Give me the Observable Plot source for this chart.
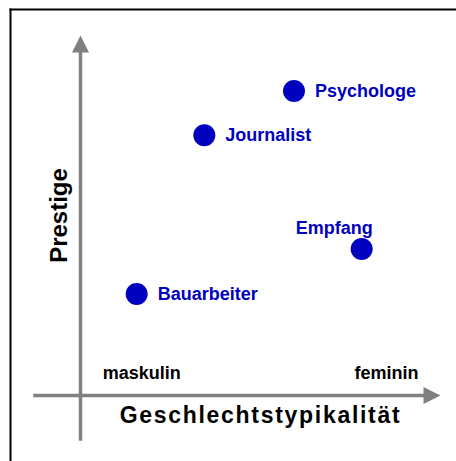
<!DOCTYPE html>
<html><head><meta charset="utf-8">
<script src="https://cdn.jsdelivr.net/npm/d3@7"></script>
<script src="https://cdn.jsdelivr.net/npm/@observablehq/plot@0.6"></script>
<style>
body{margin:0;background:#fff;}
#chart svg{display:block;background:#fff;}
</style>
</head><body><div id="chart"></div>
<script>
// Data (abstract units 0..100 along each arrow)
const jobs = ["Psychologe", "Journalist", "Empfang", "Bauarbeiter"];
const typicality = [59.3, 34.4, 78.1, 15.6];
const prestige = [84.6, 72.3, 40.7, 28.2];
const poleLabels = ["maskulin", "feminin"];
const polePositions = [17, 85];
const xTitle = "Geschlechtstypikalität";
const yTitle = "Prestige";
const xAxisExtent = [-13, 100];
const yAxisExtent = [-12.7, 100];

const data = jobs.map((name, i) => ({name, x: typicality[i], y: prestige[i]}));
const poles = poleLabels.map((label, i) => ({label, x: polePositions[i]}));
const heads = [
  {x: 0, y: yAxisExtent[1], rotate: 0},
  {x: xAxisExtent[1], y: 0, rotate: 90}
];

const blue = "#0000bf";
const gray = "#808080";
const font = "'Liberation Sans', Arial, Helvetica, sans-serif";

const headShape = {
  draw(context, l, r) {
    context.moveTo(0, -l);
    context.lineTo(r, 0);
    context.lineTo(-r, 0);
    context.closePath();
  }
};

const chart = Plot.plot({
  width: 456,
  height: 461,
  marginTop: 9,
  marginLeft: 10,
  marginRight: 0,
  marginBottom: 0,
  style: {fontFamily: font, background: "#fff"},
  x: {domain: [0, 100], range: [80, 440], axis: null},
  y: {domain: [0, 100], range: [395, 35], axis: null},
  marks: [
    Plot.frame({anchor: "top", stroke: "black", strokeWidth: 2}),
    Plot.frame({anchor: "left", stroke: "black", strokeWidth: 2}),
    Plot.ruleX([0], {y1: yAxisExtent[0], y2: yAxisExtent[1] - 3, stroke: gray, strokeWidth: 3.5}),
    Plot.ruleY([0], {x1: xAxisExtent[0], x2: xAxisExtent[1] - 3, stroke: gray, strokeWidth: 3.5}),
    Plot.vector(heads, {x: "x", y: "y", rotate: "rotate", length: 17, r: 8.5, anchor: "end",
      shape: headShape, fill: gray, stroke: "none"}),
    Plot.dot(data, {x: "x", y: "y", r: 11, fill: blue, stroke: "none"}),
    Plot.text(data, {filter: d => d.name !== "Empfang", x: "x", y: "y", text: "name",
      textAnchor: "start", dx: 21, fill: blue, fontSize: 18, fontWeight: "bold"}),
    Plot.text(data, {filter: d => d.name === "Empfang", x: "x", y: "y", text: "name",
      textAnchor: "end", dx: 11, dy: -21, fill: blue, fontSize: 18, fontWeight: "bold"}),
    Plot.text(poles, {x: "x", y: 0, text: "label", dy: -22, fill: "black",
      fontSize: 18, fontWeight: "bold"}),
    Plot.text([yTitle], {x: 0, y: 50, text: d => d, rotate: -90, dx: -21, fill: "black",
      fontSize: 24, fontWeight: "bold"}),
    Plot.text([xTitle], {x: 50, y: 0, text: d => d, dy: 20, fill: "black",
      fontSize: 23, fontWeight: "bold"})
  ]
});

d3.select(chart).selectAll("text")
  .filter(function() { return this.textContent === xTitle; })
  .attr("letter-spacing", "1.7px");

document.getElementById("chart").appendChild(chart);
</script>
</body></html>
